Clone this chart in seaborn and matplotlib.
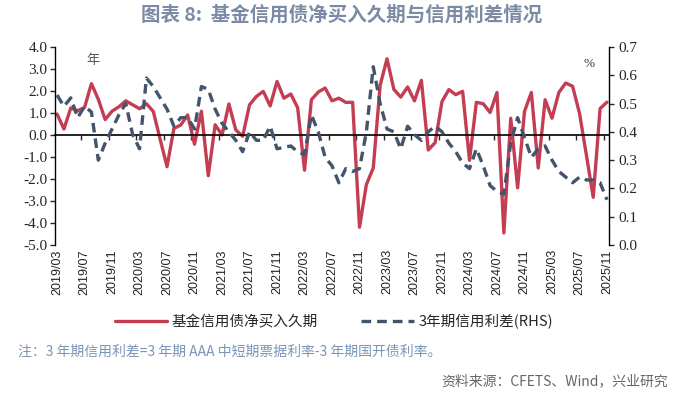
import matplotlib
matplotlib.use("Agg")
import matplotlib.pyplot as plt
import seaborn as sns
import pandas as pd

# monthly categories 2019/03 .. 2025/11
months = pd.date_range("2019-03-01", "2025-11-01", freq="MS").strftime("%Y/%m").tolist()

# 基金信用债净买入久期 (年, left axis)
duration = [0.95, 0.27, 1.23, 1.10, 1.25, 2.33, 1.62, 0.70, 1.08, 1.28,
            1.55, 1.37, 1.19, 1.42, 1.07, -0.20, -1.44, 0.30, 0.45, 0.91,
            -0.42, 1.08, -1.85, 0.46, 0.00, 1.41, 0.23, -0.06, 1.37, 1.75,
            1.98, 1.32, 2.43, 1.67, 1.86, 1.24, -1.60, 1.60, 1.95, 2.13,
            1.55, 1.67, 1.48, 1.48, -4.19, -2.25, -1.50, 2.25, 3.46, 2.07,
            1.72, 2.18, 1.55, 2.48, -0.68, -0.35, 1.52, 2.06, 1.83, 1.98,
            -1.15, 1.48, 1.42, 1.02, 1.93, -4.45, 0.76, -2.40, 1.07, 1.93,
            -1.50, 1.60, 0.76, 1.93, 2.36, 2.21, 0.99, -0.90, -2.83, 1.20, 1.49]

# 3年期信用利差 (%, right axis)
spread = [0.53, 0.49, 0.52, 0.45, 0.49, 0.47, 0.30, 0.36, 0.41, 0.46,
          0.50, 0.39, 0.34, 0.59, 0.56, 0.52, 0.48, 0.42, 0.45, 0.45,
          0.41, 0.56, 0.55, 0.48, 0.43, 0.40, 0.37, 0.33, 0.40, 0.37,
          0.37, 0.42, 0.34, 0.345, 0.35, 0.33, 0.32, 0.46, 0.40, 0.31,
          0.28, 0.22, 0.27, 0.26, 0.27, 0.40, 0.63, 0.50, 0.41, 0.40,
          0.34, 0.42, 0.39, 0.37, 0.40, 0.42, 0.40, 0.36, 0.33, 0.29,
          0.27, 0.34, 0.28, 0.21, 0.19, 0.18, 0.36, 0.45, 0.38, 0.31,
          0.34, 0.35, 0.30, 0.26, 0.24, 0.22, 0.24, 0.23, 0.23, 0.22, 0.16]

red = "#c43d52"
navy = "#44546a"

sns.set_style("white")
plt.rcParams["font.family"] = ["Noto Sans CJK SC", "DejaVu Sans"]
plt.rcParams["axes.unicode_minus"] = False

df = pd.DataFrame({"idx": range(len(months)), "month": months,
                   "duration": duration, "spread": spread})

fig = plt.figure(figsize=(6.84, 3.94), dpi=100)
ax = fig.add_axes([0.0804, 0.378, 0.810, 0.503])
ax2 = ax.twinx()

sns.lineplot(data=df, x="idx", y="duration", ax=ax, color=red, lw=2.4,
             legend=False, label="基金信用债净买入久期")
sns.lineplot(data=df, x="idx", y="spread", ax=ax2, color=navy, lw=2.4,
             linestyle=(0, (2.9, 1.8)), legend=False, label="3年期信用利差(RHS)")

ax.set_xlim(-0.3, 80.3)
ax.set_ylim(-5, 4)
ax2.set_ylim(0, 0.7)
ax.set_xlabel("")
ax.set_ylabel("")
ax2.set_ylabel("")

ax.set_yticks(list(range(-5, 5)))
ax.set_yticklabels([f"{v:.1f}" for v in range(-5, 5)])
rticks = [i / 10 for i in range(8)]
ax2.set_yticks(rticks)
ax2.set_yticklabels([f"{v:.1f}" for v in rticks])

for a in (ax, ax2):
    a.grid(False)
    a.spines["top"].set_visible(False)
    for s in ("left", "right"):
        a.spines[s].set_color("black")
        a.spines[s].set_linewidth(1.0)
ax.spines["right"].set_visible(False)
ax2.spines["left"].set_visible(False)
ax2.spines["bottom"].set_visible(False)

ax.tick_params(axis="y", direction="out", length=3.5, width=1, pad=2, left=True,
               labelsize=11, labelfontfamily="Liberation Serif")
ax2.tick_params(axis="y", direction="out", length=3.5, width=1, pad=3, right=True,
                labelsize=11, labelfontfamily="Liberation Serif")

# category axis line sits at zero with short tick marks
ax.spines["bottom"].set_position(("data", 0))
ax.spines["bottom"].set_color("black")
ax.spines["bottom"].set_linewidth(1.2)
ax.set_xticks([3.5 + 4 * k for k in range(20)])
ax.tick_params(axis="x", direction="out", length=3.5, width=1, labelbottom=False, bottom=True)

lab_pos = list(range(0, len(months), 4))
sec = ax.secondary_xaxis("bottom")
sec.set_xticks(lab_pos)
sec.set_xticklabels([months[i] for i in lab_pos], rotation=90)
sec.tick_params(axis="x", length=0, pad=3, labelsize=9, labelcolor="#222222",
                labelfontfamily="Liberation Sans")
sec.spines["bottom"].set_visible(False)

ax.text(0.068, 0.93, "年", transform=ax.transAxes, fontsize=9.5, color="#555555",
        ha="center", va="center")
ax2.text(0.964, 0.915, "%", transform=ax2.transAxes, fontsize=9.5, color="#333333",
         ha="center", va="center", family="Liberation Serif")

fig.text(0.5, 0.962, "图表 8:  基金信用债净买入久期与信用利差情况", ha="center", va="center",
         fontsize=14, fontweight="bold", color="#7b8aa5")

handles = ax.get_lines()[:1] + ax2.get_lines()[:1]
fig.legend(handles, ["基金信用债净买入久期", "3年期信用利差(RHS)"], loc="center",
           bbox_to_anchor=(0.488, 0.183), ncol=2, frameon=False, fontsize=10.5,
           handlelength=3.6, handletextpad=0.3, columnspacing=3.0)

fig.text(0.026, 0.107, "注：3 年期信用利差=3 年期 AAA 中短期票据利率-3 年期国开债利率。",
         ha="left", va="center", fontsize=10, color="#7a95b8")
fig.text(0.977, 0.033, "资料来源：CFETS、Wind，兴业研究", ha="right", va="center",
         fontsize=10, color="#666666")

fig.savefig("out.png", dpi=100)
